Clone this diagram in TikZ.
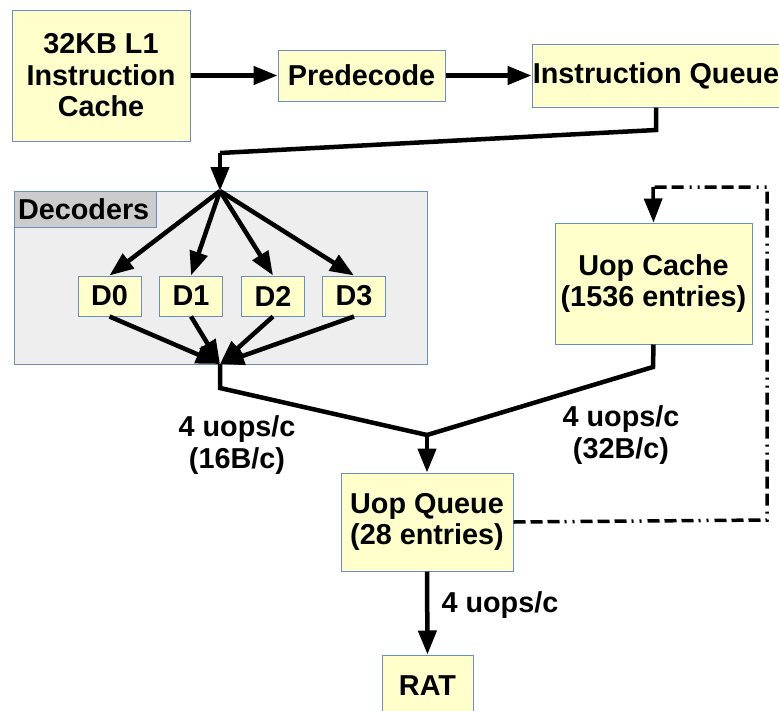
\documentclass[tikz,border=0pt]{standalone}
\usepackage{fontspec}
\setmainfont{Liberation Sans}
\usetikzlibrary{arrows.meta}
\definecolor{boxfill}{HTML}{FFFFCC}
\definecolor{boxline}{HTML}{6C8EBF}
\definecolor{grpfill}{HTML}{EEEEEE}
\definecolor{labfill}{HTML}{CCCCCC}
\tikzset{
  unit/.style={draw=boxline, fill=boxfill, line width=1pt, align=center, inner sep=0pt},
  flow/.style={line width=4.5pt, -{Triangle[length=24pt,width=18pt]}},
  wire/.style={line width=4.5pt},
  loopback/.style={line width=3.5pt, dash pattern=on 12pt off 5pt on 12pt off 5pt on 12pt off 5pt on 2pt off 6pt on 2pt off 6pt}
}

\begin{document}
\begin{tikzpicture}[x=1pt, y=-1pt, font=\fontsize{28.8}{31.5}\selectfont\bfseries]
\useasboundingbox (0,0) rectangle (779,710);
\node[unit, minimum width=178pt, minimum height=131pt] (l1) at (101,75.5) {32KB L1\\Instruction\\Cache};
\node[unit, minimum width=167pt, minimum height=51pt] (pre) at (361.5,75.5) {Predecode};
\node[unit, minimum width=248pt, minimum height=63pt] (iq) at (656,75.5) {Instruction Queue};
\draw[flow] (l1) -- (pre);
\draw[flow] (pre) -- (iq);

\node[draw=boxline, fill=grpfill, line width=1pt, minimum width=413pt, minimum height=173pt] (dec) at (220.5,277.5) {};
\node[draw=boxline, fill=labfill, line width=1pt, minimum width=142pt, minimum height=36pt, anchor=north west, inner sep=4pt, text width=134pt, align=left] (declab) at (dec.north west) {Decoders};

\coordinate (fan) at (220,191);
\coordinate (merge) at (220,364);
\draw[wire] (iq.south) -- (656,130) coordinate (iqdrop) -- (220,153) coordinate (fanin);
\draw[flow] (fanin) -- (fan);

\foreach \i/\x in {0/109.5,1/191,2/273,3/354} {
  \node[unit, minimum width=63pt, minimum height=40pt] (d\i) at (\x,296) {D\i};
  \draw[flow] (fan) -- (d\i.north);
  \draw[flow] (d\i.south) -- (merge);
}

\node[unit, minimum width=197pt, minimum height=121pt] (uc) at (653.5,283.5) {Uop Cache\\(1536 entries)};
\node[unit, minimum width=172pt, minimum height=98pt] (uq) at (427,522) {Uop Queue\\(28 entries)};
\node[unit, minimum width=91pt, minimum height=62pt] (rat) at (427.5,686) {RAT};

\coordinate (join) at (427,435);
\draw[wire] (merge) -- (220,388) -- (join);
\draw[wire] (uc.south) -- (653,367) -- (join);
\draw[flow] (join) -- (uq.north);
\draw[flow] (uq.south) -- (rat.north);

\draw[loopback] (uq.east) -- (767,520) -- (767,187) -- (653,187) coordinate (ucin);
\draw[line width=3.5pt, -{Triangle[length=24pt,width=18pt]}] (ucin) -- (uc.north);

\node[align=center] (rate16) at (237,445) {4 uops/c\\(16B/c)};
\node[align=center] (rate32) at (621,435) {4 uops/c\\(32B/c)};
\node[anchor=west] (rateout) at (438,605) {4 uops/c};
\end{tikzpicture}
\end{document}
